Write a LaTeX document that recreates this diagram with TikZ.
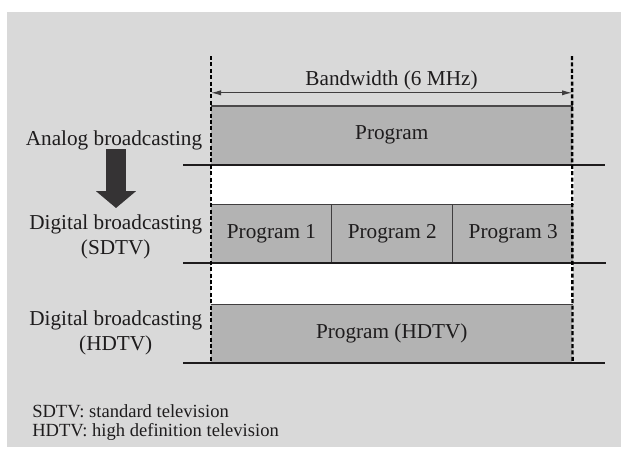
\documentclass[tikz,border=0pt]{standalone}
\usepackage{fontspec}
\setmainfont{Liberation Serif}
\usetikzlibrary{arrows.meta,positioning}

\definecolor{panel}{HTML}{D9D9D9}
\definecolor{chan}{HTML}{B3B3B3}
\definecolor{ink}{HTML}{1E1C1D}

\begin{document}
\begin{tikzpicture}[
  font=\fontsize{15.1pt}{18pt}\selectfont,
  text=ink,
  every node/.style={inner sep=0pt},
  chanbox/.style={fill=chan, minimum height=1.45cm, anchor=north west},
  rowlbl/.style={align=center, anchor=east},
  base/.style={draw=ink, line width=0.05cm},
  edge/.style={draw=ink!80, line width=0.035cm},
  sep/.style={draw=ink!85, line width=0.025cm},
  fence/.style={draw=black, line width=0.06cm, dash pattern=on 0.1cm off 0.06cm},
  dim/.style={{Latex[length=0.25cm, width=0.13cm]}-{Latex[length=0.25cm, width=0.13cm]},
    draw=ink!85, line width=0.025cm},
  down/.style={-{Triangle[length=0.42cm, width=0.975cm]}, draw=ink!90, line width=0.5cm},
]
\useasboundingbox (0,0) rectangle (15.55,-11.475);
\fill[panel] (0.175,-0.3) rectangle (15.525,-11.175);

% ===== CHANNEL ROWS =====
\node[chanbox, minimum width=9.025cm] (analog) at (5.275,-2.65) {Program};

\node[chanbox, minimum width=3.0083cm] (prog1) at (5.275,-5.1) {Program 1};
\node[chanbox, minimum width=3.0083cm, right=0cm of prog1] (prog2) {Program 2};
\node[chanbox, minimum width=3.0083cm, right=0cm of prog2] (prog3) {Program 3};

\node[chanbox, minimum width=9.025cm] (hdtv) at (5.275,-7.6) {Program (HDTV)};

% white gaps between rows
\fill[white] (analog.south west) rectangle (prog3.north east);
\fill[white] (prog1.south west) rectangle (hdtv.north east);

% top edges and program dividers
\draw[edge] (analog.north west) -- (analog.north east);
\draw[sep] (prog1.north west) -- (prog3.north east);
\draw[sep] (hdtv.north west) -- (hdtv.north east);
\draw[sep] (prog1.north east) -- (prog1.south east);
\draw[sep] (prog2.north east) -- (prog2.south east);

% base lines under each row
\foreach \l/\r in {analog/analog, prog1/prog3, hdtv/hdtv}
  \draw[base] ([xshift=-0.7cm]\l.south west) -- ([xshift=0.8cm]\r.south east);

% ===== CHANNEL LIMITS =====
\coordinate (bwL) at (5.275,-1.4);
\coordinate (bwR) at (14.3,-1.4);
\draw[fence] (bwL) -- (hdtv.south west);
\draw[fence] (bwR) -- (hdtv.south east);

\coordinate (dimL) at (5.275,-2.32);
\coordinate (dimR) at (14.3,-2.32);
\draw[dim] (dimL) -- (dimR);
\node (bw) at (9.7875,-2.0) {Bandwidth (6 MHz)};

% ===== ROW LABELS =====
\node[rowlbl] (lblA) at (5.06,-3.5) {Analog broadcasting};
\node[rowlbl] (lblS) at (5.06,-5.925) {Digital broadcasting\\(SDTV)};
\node[rowlbl] (lblH) at (5.06,-8.325) {Digital broadcasting\\(HDTV)};

\coordinate (dnTop) at (2.9,-3.725);
\coordinate (dnTip) at (2.9,-5.2);
\draw[down] (dnTop) -- (dnTip);

% ===== NOTES =====
\node[anchor=west, align=left, font=\fontsize{13.2pt}{13.5pt}\selectfont] (notes)
  at (0.8,-10.5625) {SDTV: standard television\\HDTV: high definition television};

\end{tikzpicture}
\end{document}
